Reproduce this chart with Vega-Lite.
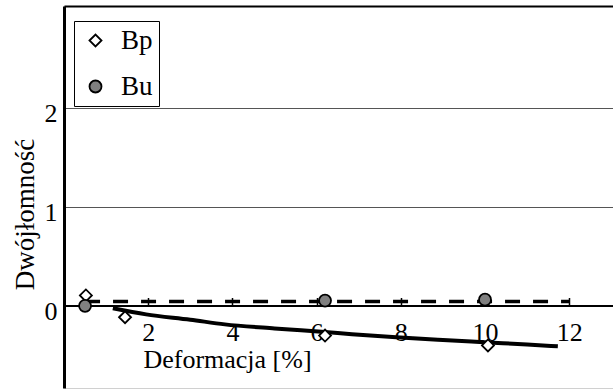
{
  "$schema": "https://vega.github.io/schema/vega-lite/v6.json",
  "width": 549,
  "height": 382,
  "autosize": {"type": "none"},
  "padding": {"left": 64, "top": 6, "right": 0, "bottom": 2},
  "background": "white",
  "config": {
    "view": {"stroke": "#d0d0d0"},
    "font": "Liberation Serif",
    "legend": {
      "orient": "none",
      "legendX": 10,
      "legendY": 15,
      "title": null,
      "strokeColor": "black",
      "padding": 6,
      "symbolOffset": 2,
      "labelOffset": 12,
      "labelFont": "Liberation Serif",
      "labelFontSize": 27,
      "labelColor": "black",
      "labelBaseline": "middle",
      "symbolSize": 144,
      "symbolStrokeWidth": 1.8,
      "rowPadding": 18
    }
  },
  "datasets": {
    "pts": [
      {"x": 0.52, "y": 0.105, "seria": "Bp"},
      {"x": 1.45, "y": -0.115, "seria": "Bp"},
      {"x": 6.2, "y": -0.3, "seria": "Bp"},
      {"x": 10.07, "y": -0.4, "seria": "Bp"},
      {"x": 0.5, "y": 0.0, "seria": "Bu"},
      {"x": 6.2, "y": 0.053, "seria": "Bu"},
      {"x": 10.0, "y": 0.063, "seria": "Bu"}
    ],
    "fitBp": [
      {"x": 1.16, "y": -0.025},
      {"x": 1.95, "y": -0.086},
      {"x": 3.0, "y": -0.14},
      {"x": 3.82, "y": -0.187},
      {"x": 5.0, "y": -0.228},
      {"x": 5.63, "y": -0.247},
      {"x": 6.5, "y": -0.275},
      {"x": 7.89, "y": -0.318},
      {"x": 9.0, "y": -0.345},
      {"x": 10.07, "y": -0.369},
      {"x": 11.0, "y": -0.39},
      {"x": 11.73, "y": -0.409}
    ],
    "fitBu": [
      {"x": 0.5, "y": 0.043},
      {"x": 12.0, "y": 0.043}
    ]
  },
  "encoding": {
    "y": {
      "field": "y",
      "type": "quantitative",
      "scale": {"domain": [-0.83, 3.03], "nice": false, "zero": false},
      "axis": {
        "values": [0, 1, 2],
        "title": "Dwójłomność",
        "titleFont": "Liberation Serif",
        "titleFontSize": 27,
        "titleFontWeight": "normal",
        "titleColor": "black",
        "titleX": -31,
        "titleY": 208,
        "titleAlign": "center",
        "titleBaseline": "alphabetic",
        "titleAngle": -90,
        "labelFont": "Liberation Serif",
        "labelFontSize": 26,
        "labelColor": "black",
        "labelPadding": 7,
        "labelOffset": 6,
        "ticks": false,
        "domainColor": "black",
        "domainWidth": 3,
        "grid": true,
        "gridColor": "#555555",
        "gridWidth": 1
      }
    }
  },
  "layer": [
    {
      "data": {"name": "fitBu"},
      "mark": {"type": "line", "color": "black", "strokeWidth": 3.5, "strokeDash": [15, 13]},
      "encoding": {
        "x": {
          "field": "x",
          "type": "quantitative",
          "scale": {"domain": [0, 13.04], "nice": false, "zero": false},
          "axis": {
            "orient": "top",
            "labels": false,
            "ticks": false,
            "grid": false,
            "title": null,
            "domainColor": "black",
            "domainWidth": 2
          }
        }
      }
    },
    {
      "data": {"name": "fitBp"},
      "mark": {"type": "line", "color": "black", "strokeWidth": 4, "interpolate": "monotone"},
      "encoding": {
        "x": {
          "field": "x",
          "type": "quantitative",
          "scale": {"domain": [0, 13.04], "nice": false, "zero": false},
          "axis": null
        }
      }
    },
    {
      "data": {"name": "pts"},
      "mark": {"type": "point", "filled": true, "strokeWidth": 1.8, "size": 144, "opacity": 1},
      "encoding": {
        "x": {
          "field": "x",
          "type": "quantitative",
          "scale": {"domain": [0, 13.04], "nice": false, "zero": false},
          "axis": {
            "orient": "bottom",
            "offset": -82.5,
            "values": [2, 4, 6, 8, 10, 12],
            "grid": false,
            "domainColor": "black",
            "domainWidth": 2,
            "tickColor": "black",
            "tickWidth": 1.5,
            "tickSize": -8,
            "labelFont": "Liberation Serif",
            "labelFontSize": 26,
            "labelColor": "black",
            "labelPadding": 22,
            "title": "Deformacja [%]",
            "titleFont": "Liberation Serif",
            "titleFontSize": 26,
            "titleFontWeight": "normal",
            "titleColor": "black",
            "titleX": 163,
            "titleY": 61.5,
            "titleAlign": "center",
            "titleBaseline": "alphabetic"
          }
        },
        "shape": {
          "field": "seria",
          "type": "nominal",
          "scale": {"domain": ["Bp", "Bu"], "range": ["diamond", "circle"]},
          "legend": {"labelExpr": "datum.label + '\u00a0\u00a0\u00a0'"}
        },
        "fill": {
          "field": "seria",
          "type": "nominal",
          "scale": {"domain": ["Bp", "Bu"], "range": ["white", "#808080"]},
          "legend": {"labelExpr": "datum.label + '\u00a0\u00a0\u00a0'"}
        },
        "stroke": {
          "field": "seria",
          "type": "nominal",
          "scale": {"domain": ["Bp", "Bu"], "range": ["black", "black"]},
          "legend": {"labelExpr": "datum.label + '\u00a0\u00a0\u00a0'"}
        }
      }
    }
  ],
  "resolve": {"axis": {"x": "independent"}}
}
